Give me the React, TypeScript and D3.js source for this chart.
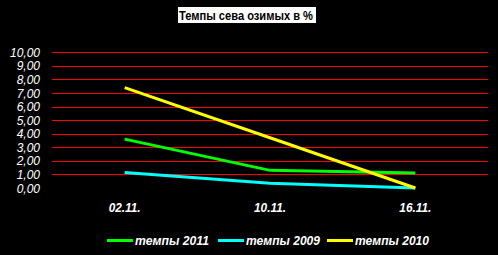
import React from "react";
import * as d3 from "d3";

const categories = ["02.11.", "10.11.", "16.11."];
const series2011 = [3.6, 1.3, 1.1];
const series2009 = [1.15, 0.35, 0.0];
const series2010 = [7.4, 3.7, 0.0];
const yTicks = [0, 1, 2, 3, 4, 5, 6, 7, 8, 9, 10];
const seriesNames = ["темпы 2011", "темпы 2009", "темпы 2010"];
const seriesColors = ["#00ff00", "#00ffff", "#ffff00"];

export default function App() {
  const W = 498, H = 255;
  const left = 52, right = 488, top = 52.3, bottom = 188;
  const x = d3.scalePoint<string>().domain(categories).range([left, right]).padding(0.5);
  const y = d3.scaleLinear().domain([0, 10]).range([bottom, top]);
  const line = d3.line<number>().x((_, i) => x(categories[i]) as number).y((d) => y(d));
  const all = [series2011, series2009, series2010];
  const font = "'Liberation Sans', Arial, sans-serif";
  const legendX = [107, 218, 327];
  return (
    <svg width={W} height={H} style={{ position: "absolute", left: 0, top: 0, background: "#000" }}>
      <rect x={0} y={0} width={W} height={H} fill="#000" />
      <rect x={178} y={7} width={138} height={16} fill="#fff" />
      <text x={179} y={19.5} textLength={134} lengthAdjust="spacingAndGlyphs" fontFamily={font} fontWeight="bold" fontSize={12.5} fill="#000">
        Темпы сева озимых в %
      </text>
      {yTicks.filter((t) => t > 0).map((t) => (
        <line key={t} x1={left} x2={right} y1={Math.round(y(t)) + 0.5} y2={Math.round(y(t)) + 0.5} stroke="#ff0000" strokeWidth={1} shapeRendering="crispEdges" />
      ))}
      {yTicks.map((t) => (
        <text key={t} x={40} y={y(t) + 4.5} textAnchor="end" fontFamily={font} fontStyle="italic" fontSize={12} fill="#fff">
          {d3.format(".2f")(t).replace(".", ",")}
        </text>
      ))}
      {categories.map((c) => (
        <text key={c} x={x(c)} y={212} textAnchor="middle" textLength={32} lengthAdjust="spacingAndGlyphs" fontFamily={font} fontStyle="italic" fontWeight="bold" fontSize={12} fill="#fff">
          {c}
        </text>
      ))}
      {all.map((s, i) => (
        <path key={i} d={line(s) || ""} fill="none" stroke={seriesColors[i]} strokeWidth={3} />
      ))}
      {seriesNames.map((n, i) => (
        <g key={n}>
          <line x1={legendX[i]} x2={legendX[i] + 26} y1={240.5} y2={240.5} stroke={seriesColors[i]} strokeWidth={3} />
          <text x={legendX[i] + 28} y={244.5} textLength={74} lengthAdjust="spacingAndGlyphs" fontFamily={font} fontStyle="italic" fontWeight="bold" fontSize={12} fill="#fff">
            {n}
          </text>
        </g>
      ))}
    </svg>
  );
}
